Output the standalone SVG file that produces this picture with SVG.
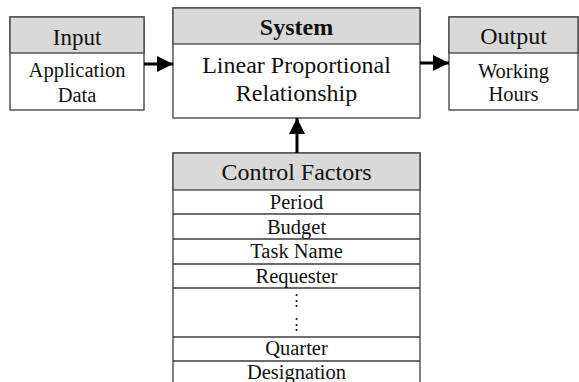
<svg xmlns="http://www.w3.org/2000/svg" width="579" height="382" viewBox="0 0 579 382">
  <defs>
    <style>
      .box { fill: #ffffff; stroke: #4a4a4a; stroke-width: 1.4; }
      .head { fill: #d9d9d9; stroke: #4a4a4a; stroke-width: 1.4; }
      .sep { stroke: #3a3a3a; stroke-width: 1.4; }
      text { font-family: "Liberation Serif", "Times New Roman", serif; fill: #111111; text-anchor: middle; }
      .t1 { font-size: 23px; }
      .t2 { font-size: 20.5px; }
      .t3 { font-size: 24px; }
      .bold { font-weight: bold; }
      .dots { font-family: "DejaVu Serif", "Liberation Serif", serif; font-size: 15px; }
      .wire { stroke: #000000; stroke-width: 3; fill: none; }
    </style>
    <marker id="arrow" viewBox="0 0 16 16" refX="16" refY="8" markerWidth="16" markerHeight="16" markerUnits="userSpaceOnUse" orient="auto">
      <path d="M0,0 L16,8 L0,16 Z" fill="#000000"/>
    </marker>
  </defs>

  <!-- Input -->
  <g id="input">
    <rect class="box" x="10" y="17" width="134" height="93"/>
    <rect class="head" x="10" y="17" width="134" height="36"/>
    <text class="t1" x="77" y="45">Input</text>
    <text class="t2" x="77" y="77">Application</text>
    <text class="t2" x="77" y="102">Data</text>
  </g>

  <!-- System -->
  <g id="system">
    <rect class="box" x="173" y="8" width="247" height="110"/>
    <rect class="head" x="173" y="8" width="247" height="36"/>
    <text class="t3 bold" x="296.5" y="35">System</text>
    <text class="t3" x="296.5" y="73">Linear Proportional</text>
    <text class="t3" x="296.5" y="101">Relationship</text>
  </g>

  <!-- Output -->
  <g id="output">
    <rect class="box" x="449" y="17" width="129" height="93"/>
    <rect class="head" x="449" y="17" width="129" height="36"/>
    <text class="t3" x="513.5" y="44">Output</text>
    <text class="t2" x="513.5" y="78">Working</text>
    <text class="t2" x="513.5" y="101">Hours</text>
  </g>

  <!-- Control factors table -->
  <g id="control">
    <rect class="box" x="173" y="153" width="247" height="235"/>
    <rect class="head" x="173" y="153" width="247" height="37"/>
    <text class="t3" x="296.5" y="180">Control Factors</text>
    <line class="sep" x1="173" y1="214" x2="420" y2="214"/>
    <line class="sep" x1="173" y1="239" x2="420" y2="239"/>
    <line class="sep" x1="173" y1="264" x2="420" y2="264"/>
    <line class="sep" x1="173" y1="288" x2="420" y2="288"/>
    <line class="sep" x1="173" y1="337" x2="420" y2="337"/>
    <line class="sep" x1="173" y1="361" x2="420" y2="361"/>
    <text class="t2" x="296.5" y="209">Period</text>
    <text class="t2" x="296.5" y="234">Budget</text>
    <text class="t2" x="296.5" y="258">Task Name</text>
    <text class="t2" x="296.5" y="283">Requester</text>
    <text class="dots" x="296.5" y="305">⋮</text>
    <text class="dots" x="296.5" y="329">⋮</text>
    <text class="t2" x="296.5" y="355">Quarter</text>
    <text class="t2" x="296.5" y="379">Designation</text>
  </g>

  <!-- Connectors -->
  <g id="connectors">
    <line class="wire" x1="144" y1="64" x2="173" y2="64" marker-end="url(#arrow)"/>
    <line class="wire" x1="420" y1="63" x2="449" y2="63" marker-end="url(#arrow)"/>
    <line class="wire" x1="297" y1="153" x2="297" y2="118" marker-end="url(#arrow)"/>
  </g>
</svg>
